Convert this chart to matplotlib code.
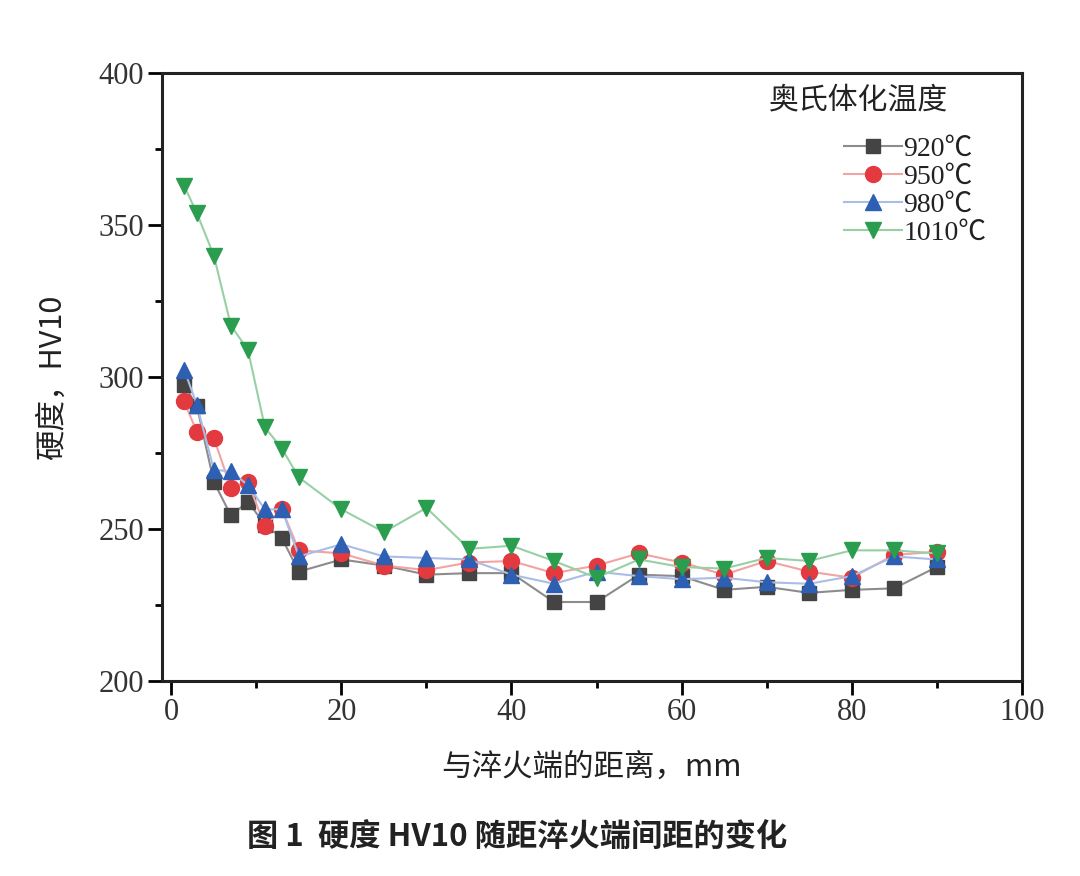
import matplotlib
matplotlib.use("Agg")
import matplotlib.pyplot as plt
from matplotlib.font_manager import FontProperties
from matplotlib.ticker import MultipleLocator

distance = [1.5, 3, 5, 7, 9, 11, 13, 15, 20, 25, 30, 35, 40, 45, 50, 55, 60, 65, 70, 75, 80, 85, 90]
hv_920 = [297.5, 290.5, 265.5, 254.5, 259, 251.5, 247, 236, 240, 238, 235, 235.5, 235.5, 226, 226,
          235, 234.5, 230, 231, 229, 230, 230.5, 237.5]
hv_950 = [292, 282, 280, 263.5, 265.5, 251, 256.5, 243, 242, 238, 236.5, 239, 239.5, 235.5, 238,
          242, 239, 235, 239.5, 236, 234, 241.5, 242.5]
hv_980 = [302.5, 291, 269.5, 269, 264.5, 256.5, 256.5, 241, 245, 241, 240.5, 240, 235, 232, 236,
          234.5, 233.5, 234, 232.5, 232, 234.5, 241, 240]
hv_1010 = [363, 354, 340, 317, 309, 283.5, 276.5, 267, 256.5, 249, 257, 243.5, 244.5, 239.5, 234,
           240, 237.5, 237, 240.5, 239.5, 243, 243, 242]
labels = ["920℃", "950℃", "980℃", "1010℃"]
legend_title = "奥氏体化温度"
xlabel = "与淬火端的距离，mm"
ylabel = "硬度，HV10"
caption = "图 1  硬度 HV10 随距淬火端间距的变化"

serif = ["Liberation Serif", "Noto Sans CJK SC"]
cjk = ["Noto Sans CJK SC", "DejaVu Sans"]

fig = plt.figure(figsize=(10.8, 8.76), dpi=100)
ax = fig.add_axes([0.15, 0.2226, 0.796, 0.6937])

series = [
    (hv_920, "s", "#444444", "#8c8c8c", 10),
    (hv_950, "o", "#e23a3e", "#f2a3a3", 11.5),
    (hv_980, "^", "#2d5fb3", "#a9bde6", 12),
    (hv_1010, "v", "#2a9d4e", "#98d0a6", 12),
]
handles = []
for (vals, mk, mc, lc, ms), lab in zip(series, labels):
    h, = ax.plot(distance, vals, color=lc, lw=1.5, marker=mk, markersize=ms,
                 markerfacecolor=mc, markeredgecolor=mc, label=lab, clip_on=False)
    handles.append(h)

ax.set_xlim(-1.1, 100)
ax.set_ylim(200, 400)
ax.xaxis.set_major_locator(MultipleLocator(20))
ax.xaxis.set_minor_locator(MultipleLocator(10))
ax.yaxis.set_major_locator(MultipleLocator(50))
ax.yaxis.set_minor_locator(MultipleLocator(25))
ax.tick_params(which="both", direction="out", width=2, top=False, right=False)
ax.tick_params(which="major", length=10)
ax.tick_params(axis="y", which="major", pad=3)
ax.tick_params(axis="x", which="major", pad=2)
ax.tick_params(which="minor", length=5)
for s in ax.spines.values():
    s.set_linewidth(2.2)
    s.set_color("#222222")
for lbl in ax.get_xticklabels() + ax.get_yticklabels():
    lbl.set_fontfamily(serif)
    lbl.set_fontsize(22)
    lbl.set_color("#333333")

ax.set_xlabel(xlabel, fontfamily=cjk, fontsize=22, labelpad=18, color="#222222")
ax.set_ylabel(ylabel, fontfamily=cjk, fontsize=22, labelpad=22, color="#222222")

leg = ax.legend(handles=handles, loc="upper left", bbox_to_anchor=(0.78, 0.915),
                frameon=False, prop=FontProperties(family=serif, size=20),
                handlelength=2.1, handletextpad=0.05, labelspacing=0.1,
                borderaxespad=0)
for t in leg.get_texts():
    t.set_color("#222222")
fig.text(0.712, 0.886, legend_title, fontfamily=cjk, fontsize=21.5, color="#222222",
         ha="left", va="center")

fig.text(0.479, 0.043, caption, fontfamily=cjk, fontsize=22.5, fontweight="bold",
         ha="center", va="center", color="#222222")

fig.savefig("out.png", dpi=100)
